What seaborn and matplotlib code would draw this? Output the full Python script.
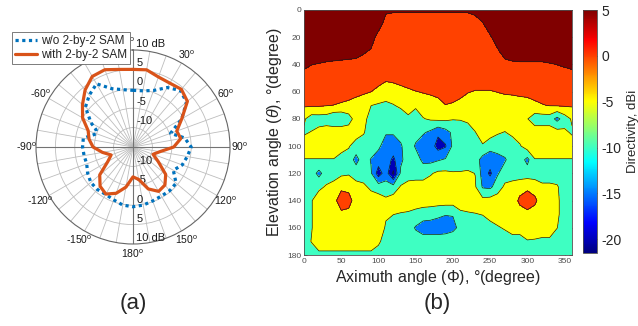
import numpy as np
import matplotlib
matplotlib.use("Agg")
import matplotlib.pyplot as plt
import seaborn as sns
from matplotlib.colors import LinearSegmentedColormap, Normalize
from matplotlib.cm import ScalarMappable

sns.set_theme(style="white")
plt.rcParams["font.family"] = ["Liberation Sans", "DejaVu Sans"]
plt.rcParams["mathtext.fontset"] = "custom"
plt.rcParams["mathtext.rm"] = "Liberation Sans"
plt.rcParams["mathtext.it"] = "Liberation Sans:italic"
plt.rcParams["axes.unicode_minus"] = False

# ---------------- (a) polar radiation pattern (dB) ----------------
angles_with = list(range(0, 361, 10))
with_sam_db = [5.0, 5.2, 4.2, 4.0, 4.4, 3.3, -0.5, -3.0, -2.5, -4.5, -8.0, -9.5,
               -7.5, -4.0, -2.2, -1.8, -3.5, -6.5, -7.3, -4.5, -2.3, -1.0, -1.8,
               -3.8, -7.5, -9.0, -7.0, -4.7, -3.5, -2.7, 0.0, 2.0, 4.2, 6.0, 6.2,
               5.3, 5.0]
angles_without = [0, 10, 20, 30, 40, 50, 60, 65, 70, 80, 90, 100, 110, 120, 130,
                  140, 150, 160, 170, 180, 190, 200, 210, 220, 230, 240, 250, 260,
                  270, 280, 290, 295, 300, 310, 320, 330, 340, 350, 360]
without_sam_db = [-0.4, -0.3, 0.5, 2.7, 4.0, 3.0, -0.5, -3.0, -4.7, -1.5, 0.0,
                  -0.8, -1.5, -3.0, -0.5, -0.3, -0.4, -0.2, 0.2, 0.4, 0.2, -0.5,
                  -0.9, -0.7, -0.8, -1.5, -2.3, -2.2, -2.0, -2.0, -5.0, -4.5, -2.5,
                  1.0, 2.5, 3.8, 1.0, 0.0, -0.4]
angle_tick_labels = [0, 30, 60, 90, 120, 150, 180, -150, -120, -90, -60]
radial_tick_labels = ["-10", "-5", "0", "5", "10 dB"]
radial_tick_values = [-10, -5, 0, 5, 10]

# ---------------- (b) directivity map (dBi) ----------------
azimuth_deg = list(range(0, 361, 10))
elevation_deg = list(range(0, 181, 10))
row_000 = [8]*11 + [6.07] + [5.6]*11 + [6.67] + [8]*13
row_010 = [8]*11 + [2.5]*13 + [4.67] + [8]*12
row_020 = [8]*10 + [2.5]*15 + [4.25] + [8]*11
row_030 = [8]*8 + [5.83, 4.47] + [2.5]*16 + [4.25] + [8]*10
row_040 = [6.43, 5.1, 4.74, 4.25, 3.95, 3.59, 3.16, 2.64] + [2.5]*19 + \
          [3, 4, 4.25, 4.25, 4.25, 4.25, 4.67, 5.05, 5.65, 6.43]
row_050 = [2.5]*11 + [0.83, 1.35] + [2.5]*24
row_060 = [2.5]*7 + [1.67, 0.625, 0.05, -1.67, -2.5, -2.5, -2.05, -0.83, -0.13,
                     0.28, 0.83, 2.05, 2.5, 2.5, 2.5, 0.28, -0.28, -0.28, -0.28,
                     0.13, 0.625, 0.83, 1.35, 1.81] + [2.5]*6
row_070 = [0.625, 0.625, 0.625, 0.28, -0.08, -0.625, -1.47, -2.5, -2.5, -4.9,
           -5.5, -6, -5.2, -4.2, -2.5, -4.2, -2.5, -2.5, -2.5, -0.13,
           -0.625, -2.5, -2.5, -2.5, -2.5, -2.5, -2.5, -2.5, -2.5, -2.5,
           -2.5, -1.35, -0.28, 0.28, 0.51, 0.625, 0.625]
row_080 = [-4.375, -7.5, -7.4, -7.5, -9.5, -9.5, -7, -3, -3.5, -7,
           -7.5, -8.5, -8.5, -7.5, -6.07, -7.5, -5.28, -4.4, -3.93, -3.93,
           -4.72, -4.72, -3.93, -2.5, -2.5, -2.5, -2.5, -2.5, -2.5, -2.5,
           -4.8, -7.5, -7.5, -7.5, -11.5, -7.5, -4.375]
row_090 = [-5.625, -4.72, -3.33, -2.5, -1.5, -1.5, -2.5, -2.5, -4.6, -7.5,
           -8.5, -9.5, -9.5, -8.5, -7.5, -8.5, -9.5, -11, -14, -12,
           -9, -7.5, -7.5, -5.2, -2.5, -2.5, -4.6, -5.2, -3.9, -2.5,
           -2.5, -2.5, -2.5, -2.5, -3, -4, -5.625]
row_100 = [-2.5, -2.5, -2.5, -2.5, -2.5, -2.5, -4.5, -7.5, -7.5, -7.5,
           -9, -12.5, -12.5, -10.5, -7.5, -10.5, -12.5, -12.5, -17, -15.5,
           -9, -7.5, -7.5, -7.5, -5.5, -8.5, -7.5, -7.5, -7.5, -5.5,
           -2.5, -2.5, -2.5, -2.5, -2.5, -2.5, -2.5]
row_110 = [-5.2, -5.2, -5.2, -5.2, -5.2, -7.5, -7.5, -11.5, -7.5, -10.3,
           -12.5, -12.5, -16, -11, -7.5, -8, -11, -11.5, -10.5, -9.5,
           -8, -7.5, -7.5, -7.5, -12, -12.5, -12, -10.5, -7.5, -7.5,
           -11.5, -5.2, -5.2, -5.2, -5.2, -5.2, -5.2]
row_120 = [-7.5, -7.5, -11.5, -7.5, -7.5, -6, -5.5, -7.5, -7.5, -9.5,
           -17.5, -12.5, -21, -9, -7.5, -7.5, -7.5, -5.5, -4, -4,
           -4.6, -4.6, -4.3, -5.1, -12, -16, -10.5, -7.5, -7.5, -7.5,
           -7.5, -7.5, -7.5, -7.5, -7.5, -7.5, -7.5]
row_130 = [-7.5, -6, -6, -4.5, -3, -1.0, -1.5, -3, -4, -6,
           -7.5, -8, -8, -4.5, -3, -2.5, -2.5, -2.5, -2.5, -2.5,
           -2.5, -2.5, -2.5, -4.5, -10.5, -11, -7.5, -4, -3, -2.0,
           -1.0, -2.0, -4, -4, -4.5, -7.5, -7.5]
row_140 = [-7.5, -5.3, -2.5, -2.5, -1.5, 2.5, 2.0, -2.5, -2.5, -2.5,
           -2.5, -4, -2.5, -2.5, -2.5, -2.5, -2.5, -2.5, -2.5, -2.5,
           -2.5, -2.5, -2.5, -2.5, -3.5, -3, -2.5, -2.5, -2.5, 1.0,
           2.5, 1.0, -2.5, -2.5, -4, -7.5, -7.5]
row_150 = [-7.5, -5.3, -2.5, -2.5, -2.5, -1.0, -1.5, -2.5, -2.5, -2.5,
           -2.5, -4.5, -4.9, -5.3, -5.6, -6.5, -7.5, -8, -9, -9.8,
           -9.8, -6, -5.5, -5.2, -4.8, -2.5, -2.5, -2.5, -2.5, -2.0,
           -1.2, -2.0, -2.5, -2.5, -4, -7.5, -7.5]
row_160 = [-7.5, -5.3, -2.5, -2.5, -2.5, -2.5, -2.5, -2.5, -2.5, -2.5,
           -2.5, -5.5, -7.5, -7.5, -7.5, -10.5, -12.5, -12.5, -12.5, -12,
           -11, -9, -7.5, -7.5, -7.5, -7.5, -5.5, -4.5, -2.5, -2.5,
           -2.5, -2.5, -2.5, -2.5, -4.9, -7.5, -7.5]
row_170 = [-7.5, -4.8] + [-2.5]*8 + [-4] + [-7.5]*19 + \
          [-5.3, -5.5, -6, -6, -7.5, -7.5, -7.5]
row_180 = [-7.5, -7.5] + [-6.07]*8 + [-7.5] + [-7.5]*26
directivity_rows = [row_000, row_010, row_020, row_030, row_040, row_050, row_060,
                    row_070, row_080, row_090, row_100, row_110, row_120, row_130,
                    row_140, row_150, row_160, row_170, row_180]
contour_levels = [-20, -15, -10, -5, 0, 5]
cbar_ticks = [-20, -15, -10, -5, 0, 5]

# ---------------- figure ----------------
W, H = 638, 326
fig = plt.figure(figsize=(W / 100, H / 100), dpi=100)
fig.patch.set_facecolor("white")

# ----- polar -----
axp = fig.add_axes([36 / W, (H - 244) / H, 194 / W, 194 / H], projection="polar")
axp.set_facecolor("white")
axp.set_theta_zero_location("N")
axp.set_theta_direction(-1)
axp.set_ylim(-15, 10)
axp.set_autoscale_on(False)
axp.set_thetagrids(np.arange(0, 360, 10), labels=[])
axp.set_rgrids([-10, -5, 0, 5], labels=[])
axp.grid(True, color="#bdbdbd", linewidth=0.6, linestyle="-")
axp.spines["polar"].set_color("0.4")
axp.spines["polar"].set_linewidth(0.8)
for th in (0, 90, 180, 270):
    axp.plot([np.deg2rad(th)] * 2, [-15, 10], color="0.45", lw=0.8, zorder=1)

sns.lineplot(x=np.deg2rad(angles_without), y=without_sam_db, ax=axp, sort=False,
             estimator=None, color="#0072BD", linewidth=2.3,
             linestyle=(0, (1, 1.1)), label="w/o 2-by-2 SAM", zorder=3)
sns.lineplot(x=np.deg2rad(angles_with), y=with_sam_db, ax=axp, sort=False,
             estimator=None, color="#D95319", linewidth=2.3,
             label="with 2-by-2 SAM", zorder=4)
axp.set_ylim(-15, 10)
axp.set_xlabel("")
axp.set_ylabel("")
handles, labels = axp.get_legend_handles_labels()
if axp.get_legend() is not None:
    axp.get_legend().remove()

for a in angle_tick_labels:
    if a == 0:
        axp.annotate("0" + r"$^{\mathrm{o}}$", xy=(0, 12.0), xytext=(2, 0),
                     textcoords="offset points", ha="right", va="center",
                     fontsize=7.5, color="0.1", annotation_clip=False)
        continue
    axp.text(np.deg2rad(a), 12.5, f"{a}" + r"$^{\mathrm{o}}$", ha="center",
             va="center", fontsize=7.5, color="0.1", clip_on=False)
for v, s in zip(radial_tick_values, radial_tick_labels):
    axp.annotate(s, xy=(0, v), xytext=(2.5, 1), textcoords="offset points",
                 ha="left", va="bottom", fontsize=8, color="0.1")
    axp.annotate(s, xy=(np.pi, v), xytext=(2.5, 0.5), textcoords="offset points",
                 ha="left", va="bottom", fontsize=8, color="0.1")

leg = fig.legend(handles, labels, loc="upper left",
                 bbox_to_anchor=(12 / W, 1 - 32 / H), fontsize=8.5,
                 handlelength=1.9, borderpad=0.25, labelspacing=0.15,
                 handletextpad=0.3, borderaxespad=0, fancybox=False,
                 edgecolor="0.4", framealpha=1)
leg.get_frame().set_linewidth(0.6)

fig.text(133 / W, 1 - 304 / H, "(a)", ha="center", va="center", fontsize=16)
fig.text(437 / W, 1 - 304 / H, "(b)", ha="center", va="center", fontsize=16)

# ----- contour map -----
mjet = LinearSegmentedColormap.from_list(
    "mjet", [(0, (0, 0, 0.5)), (0.125, (0, 0, 1)), (0.375, (0, 1, 1)),
             (0.625, (1, 1, 0)), (0.875, (1, 0, 0)), (1, (0.5, 0, 0))])
norm = Normalize(-21.5, 5)
fill_levels = [-40] + contour_levels + [40]
band_colors = [mjet(norm(v)) for v in [-21.5] + contour_levels]

Z = np.array(directivity_rows, dtype=float)
axc = fig.add_axes([304 / W, (H - 255) / H, 268 / W, 245 / H])
axc.contourf(azimuth_deg, elevation_deg, Z, levels=fill_levels, colors=band_colors)
axc.contour(azimuth_deg, elevation_deg, Z, levels=contour_levels, colors="k",
            linewidths=0.5, linestyles="solid", negative_linestyles="solid")
axc.set_xlim(0, 360)
axc.set_ylim(180, 0)
axc.set_xticks(range(0, 351, 50))
axc.set_yticks(range(0, 181, 20))
axc.tick_params(labelsize=6, direction="in", length=2.5, width=0.5,
                bottom=True, left=True, top=True, right=True,
                labelcolor="0.3", color="0.3", pad=2)
for sp in axc.spines.values():
    sp.set_color("0.3")
    sp.set_linewidth(0.6)
axc.set_xlabel(r"Aximuth angle ($\mathit{\Phi}$), °(degree)", fontsize=11.5,
               labelpad=2, color="0.15")
axc.set_ylabel(r"Elevation angle ($\theta$), °(degree)", fontsize=11.5,
               labelpad=2, color="0.15")

cax = fig.add_axes([583 / W, (H - 253) / H, 14 / W, 243 / H])
sm = ScalarMappable(norm=norm, cmap=mjet)
cb = fig.colorbar(sm, cax=cax, ticks=cbar_ticks)
cb.ax.tick_params(labelsize=10, direction="in", length=2, width=0.5,
                  right=True, pad=3, color="0.3")
cb.outline.set_linewidth(0.6)
cb.outline.set_edgecolor("0.3")
cb.set_label("Directivity, dBi", fontsize=9.5, labelpad=4, color="0.15")

fig.savefig("out.png", dpi=100, facecolor="white")
